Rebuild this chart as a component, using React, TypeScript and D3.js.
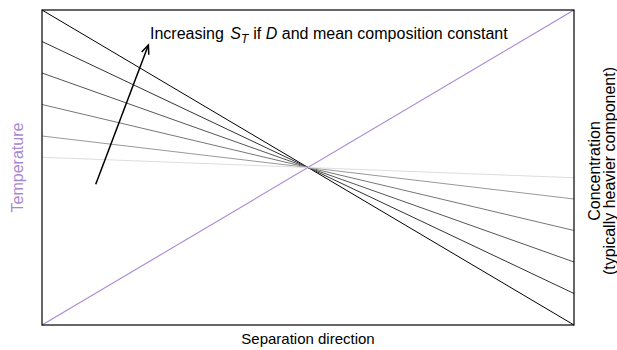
import React from "react";
import * as d3 from "d3";

// Concentration profiles: magnitude of the gradient across the cell (normalised)
const gradients = [1.0, 0.8, 0.6, 0.4, 0.2, 0.065];
// Stroke colour for each profile, darkest = steepest
const grays = ["#000000", "#333333", "#555555", "#777777", "#999999", "#dddddd"];
// Linear temperature profile across the cell
const temperatureEnds = [-1, 1];
// Arrow showing the direction of increasing Soret coefficient
const arrowFrom = [0.101, -0.107];
const arrowTo = [0.2, 0.778];

const W = 617;
const H = 350;
const FONT = "'Liberation Sans', Arial, Helvetica, sans-serif";
const PURPLE = "#a888d2";

export default function App() {
  const x = d3.scaleLinear().domain([0, 1]).range([42, 574]);
  const y = d3.scaleLinear().domain([-1, 1]).range([325, 10]);
  const line = d3
    .line<[number, number]>()
    .x((d) => x(d[0]))
    .y((d) => y(d[1]));

  const ax0 = x(arrowFrom[0]);
  const ay0 = y(arrowFrom[1]);
  const ax1 = x(arrowTo[0]);
  const ay1 = y(arrowTo[1]);
  const ang = Math.atan2(ay1 - ay0, ax1 - ax0);
  const hl = 9;
  const hw = 3.8;
  const bx = ax1 - hl * Math.cos(ang);
  const by = ay1 - hl * Math.sin(ang);
  const px = -Math.sin(ang);
  const py = Math.cos(ang);
  const head = `M${bx + hw * px},${by + hw * py}L${ax1},${ay1}L${bx - hw * px},${by - hw * py}`;

  const midY = y(0);

  return (
    <svg
      width={W}
      height={H}
      style={{ position: "absolute", left: 0, top: 0, background: "#fff" }}
      fontFamily={FONT}
    >
      {gradients.map((g, i) => (
        <path
          key={i}
          d={line([
            [0, g],
            [1, -g],
          ]) as string}
          stroke={grays[i]}
          strokeWidth={1}
          fill="none"
        />
      ))}
      <path
        d={line([
          [0, temperatureEnds[0]],
          [1, temperatureEnds[1]],
        ]) as string}
        stroke={PURPLE}
        strokeWidth={1.1}
        fill="none"
      />
      <rect
        x={x(0)}
        y={y(1)}
        width={x(1) - x(0)}
        height={y(-1) - y(1)}
        fill="none"
        stroke="#000"
        strokeWidth={1.2}
      />
      <line x1={ax0} y1={ay0} x2={ax1} y2={ay1} stroke="#000" strokeWidth={1.5} />
      <path d={head} stroke="#000" strokeWidth={1.5} fill="none" />

      <text x={150} y={39} fontSize={16} fill="#000">
        Increasing{" "}
        <tspan fontStyle="italic" dx={2}>S</tspan>
        <tspan fontStyle="italic" fontSize={12} dy={4}>T</tspan>
        <tspan dy={-4} dx={5}>if </tspan>
        <tspan fontStyle="italic">D</tspan>
        <tspan> and mean composition constant</tspan>
      </text>

      <text
        x={(x(0) + x(1)) / 2}
        y={344}
        fontSize={15}
        textAnchor="middle"
        fill="#000"
      >
        Separation direction
      </text>

      <text
        transform={`translate(23,${midY}) rotate(-90)`}
        fontSize={16}
        textAnchor="middle"
        fill={PURPLE}
      >
        Temperature
      </text>

      <text
        transform={`translate(600,171) rotate(-90)`}
        fontSize={16}
        textAnchor="middle"
        fill="#000"
      >
        <tspan x={0} dy={0}>Concentration</tspan>
        <tspan x={0} dy={14.5}>(typically heavier component)</tspan>
      </text>
    </svg>
  );
}
